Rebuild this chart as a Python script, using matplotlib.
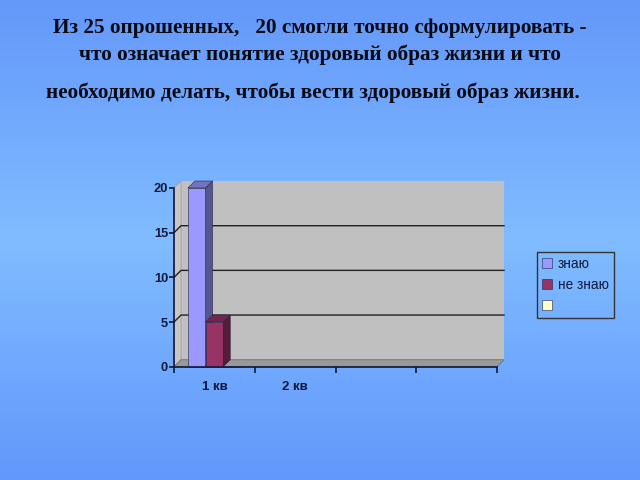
import numpy as np
import matplotlib
matplotlib.use("Agg")
import matplotlib.pyplot as plt
from matplotlib.patches import Polygon
from matplotlib.colors import LinearSegmentedColormap

# ---- data ----
categories = ["1 кв", "2 кв", "", ""]
series_names = ["знаю", "не знаю", ""]
know = [20, np.nan, np.nan, np.nan]
dont_know = [5, np.nan, np.nan, np.nan]
third = [0, np.nan, np.nan, np.nan]
yticks = [0, 5, 10, 15, 20]
title_lines = ["Из 25 опрошенных,   20 смогли точно сформулировать -",
               "что означает понятие здоровый образ жизни и что",
               "необходимо делать, чтобы вести здоровый образ жизни."]

face_colors = ["#9999FF", "#993366", "#FFFFCC"]
side_colors = ["#55558F", "#551C39", "#8F8F72"]
top_colors = ["#7373C0", "#73264D", "#C0C099"]
text_col = "#10183A"

fig = plt.figure(figsize=(6.4, 4.8), dpi=100)

# background gradient
bg = fig.add_axes([0, 0, 1, 1], zorder=-10)
cmap = LinearSegmentedColormap.from_list("bg", [(0, (100/255, 152/255, 250/255)),
                                                (0.5, (128/255, 188/255, 255/255)),
                                                (1, (98/255, 152/255, 252/255))])
bg.imshow(np.linspace(0, 1, 256)[:, None], aspect="auto", cmap=cmap,
          extent=[0, 1, 0, 1], origin="upper")
bg.set_axis_off()

# title
tys = [1 - 33/480, 1 - 60/480, 1 - 98/480]
txs = [320/640, 320/640, 313/640]
for t, yy, xx in zip(title_lines, tys, txs):
    fig.text(xx, yy, t, ha="center", va="baseline", fontsize=15.3, fontweight="bold",
             family="Liberation Serif", color="#0a0a14")

ax = fig.add_axes([174/640, 1 - 366.7/480, (497 - 174)/640, (366.7 - 188)/480])
ax.set_xlim(0, 4)
ax.set_ylim(0, 20)
ax.patch.set_alpha(0)

dx = 0.087
dy = 0.78
xmax = 4

# walls
ax.add_patch(Polygon([(dx, dy), (xmax + dx, dy), (xmax + dx, 20 + dy), (dx, 20 + dy)],
                     closed=True, facecolor="#C0C0C0", edgecolor="none", clip_on=False, zorder=0))
ax.add_patch(Polygon([(0, 0), (dx, dy), (dx, 20 + dy), (0, 20)],
                     closed=True, facecolor="#C6C6C6", edgecolor="#9a9a9a", lw=0.5, clip_on=False, zorder=0))
ax.add_patch(Polygon([(0, 0), (xmax, 0), (xmax + dx, dy), (dx, dy)],
                     closed=True, facecolor="#999999", edgecolor="#707070", lw=0.6, clip_on=False, zorder=0.5))
for yv in yticks[1:-1]:
    ax.plot([0, dx, xmax + dx], [yv, yv + dy, yv + dy], color="#222222", lw=1.0,
            clip_on=False, zorder=0.6)

# bars
bw = 0.219
centers = np.arange(len(categories)) + 0.5
for i, vals in enumerate([know, dont_know, third]):
    xs = centers + (i - 1) * bw
    ax.bar(xs, vals, width=bw, color=face_colors[i], edgecolor="#222244", lw=0.4,
           zorder=2 + i, clip_on=False, label=series_names[i] if series_names[i] else " ")
    for x, v in zip(xs, vals):
        if np.isnan(v) or v <= 0:
            continue
        xl, xr = x - bw / 2, x + bw / 2
        ax.add_patch(Polygon([(xr, 0), (xr + dx, dy), (xr + dx, v + dy), (xr, v)], closed=True,
                             facecolor=side_colors[i], edgecolor="#222244", lw=0.4,
                             clip_on=False, zorder=2 + i))
        ax.add_patch(Polygon([(xl, v), (xr, v), (xr + dx, v + dy), (xl + dx, v + dy)], closed=True,
                             facecolor=top_colors[i], edgecolor="#222244", lw=0.4,
                             clip_on=False, zorder=2 + i))

for s in ["top", "right"]:
    ax.spines[s].set_visible(False)
for s in ["left", "bottom"]:
    ax.spines[s].set_color(text_col)
    ax.spines[s].set_linewidth(1.2)
    ax.spines[s].set_zorder(6)

ax.set_yticks(yticks)
ax.set_yticklabels([str(v) for v in yticks])
ax.set_xticks(np.arange(len(categories) + 1))
ax.set_xticklabels([])
ax.set_xticks(centers, minor=True)
ax.set_xticklabels(categories, minor=True)
ax.tick_params(axis="x", which="minor", length=0, pad=10)
ax.tick_params(axis="x", which="major", length=4, width=1.2, color=text_col, direction="out")
ax.tick_params(axis="y", length=3.5, width=1.2, color=text_col, direction="out", pad=0.8)
for lab in ax.get_yticklabels():
    lab.set_fontfamily("Liberation Sans")
    lab.set_fontweight("bold")
    lab.set_fontsize(9.3)
    lab.set_color(text_col)
for lab in ax.get_xticklabels(minor=True):
    lab.set_fontfamily("Liberation Sans")
    lab.set_fontweight("bold")
    lab.set_fontsize(9.5)
    lab.set_color(text_col)

handles, labels = ax.get_legend_handles_labels()
leg = fig.legend(handles, labels, loc="upper left",
                 bbox_to_anchor=(537/640, 1 - 252/480),
                 frameon=True, fancybox=False, framealpha=1, edgecolor="#333333",
                 facecolor="none",
                 handlelength=0.75, handleheight=0.75, handletextpad=0.4,
                 labelspacing=0.5, borderpad=0.38, borderaxespad=0,
                 prop={"family": "Liberation Sans", "size": 9.8})
leg.get_frame().set_linewidth(1.0)
leg.get_frame().set_facecolor("none")
for t in leg.get_texts():
    t.set_color(text_col)

fig.savefig("out.png", dpi=100)
